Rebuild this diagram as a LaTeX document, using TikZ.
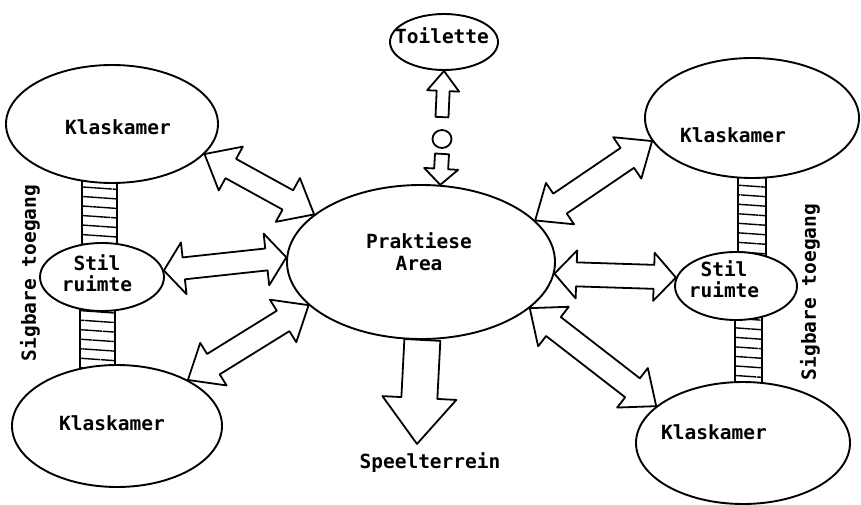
\documentclass[tikz,border=0pt]{standalone}
\usepackage{fontspec}
\setmonofont{DejaVu Sans Mono}
\usetikzlibrary{shapes.geometric,calc,patterns.meta}
\tikzset{
  room/.style={draw, ellipse, line width=1.9pt, fill=white, inner sep=0pt},
  lbl/.style={font=\ttfamily\bfseries\fontsize{19.5}{22}\selectfont, align=center, inner sep=0pt},
  arr/.style={line width=1.8pt, line join=round},
  corr/.style={line width=1.8pt, pattern={Lines[angle=-4, distance=9.5pt, line width=1.4pt]}}
}
% double block arrow: #1 A, #2 B, #3 head length, #4 shaft half width, #5 head half width
\newcommand\dblarr[5]{%
  \draw[arr] (#1) -- ($(#1)!#3!(#2)!#5!90:(#2)$) -- ($(#1)!#3!(#2)!#4!90:(#2)$)
    -- ($(#2)!#3!(#1)!#4!-90:(#1)$) -- ($(#2)!#3!(#1)!#5!-90:(#1)$) -- (#2)
    -- ($(#2)!#3!(#1)!#5!90:(#1)$) -- ($(#2)!#3!(#1)!#4!90:(#1)$)
    -- ($(#1)!#3!(#2)!#4!-90:(#2)$) -- ($(#1)!#3!(#2)!#5!-90:(#2)$) -- cycle;}
% single block arrow: #1 tail, #2 tip
\newcommand\sglarr[5]{%
  \draw[arr] ($(#1)!#4!90:(#2)$) -- ($(#2)!#3!(#1)!#4!-90:(#1)$) -- ($(#2)!#3!(#1)!#5!-90:(#1)$)
    -- (#2) -- ($(#2)!#3!(#1)!#5!90:(#1)$) -- ($(#2)!#3!(#1)!#4!90:(#1)$)
    -- ($(#1)!#4!-90:(#2)$) -- cycle;}
\begin{document}
\begin{tikzpicture}[x=1pt,y=-1pt]
\useasboundingbox (0,0) rectangle (861,505);
\path (112,124) coordinate (pklt) (102,277) coordinate (plsr) (117,426) coordinate (plkb)
      (752,118) coordinate (prkt) (736,286) coordinate (prsr) (743,443) coordinate (prkb);
% corridors (drawn first, ellipses cover their ends)
\draw[corr] ($(plsr)+(-20,-24)$) rectangle ($(pklt)+(5,49)$);
\draw[corr] ($(plsr)+(-22,24)$) rectangle ($(plkb)+(-2,-51)$);
\draw[corr] ($(prkt)+(-14,50)$) rectangle ($(prsr)+(30,-24)$);
\draw[corr] ($(prsr)+(-1,24)$) rectangle ($(prkb)+(19,-51)$);
% rooms
\node[room, minimum width=108pt, minimum height=56pt,
      label={[lbl, xshift=-2pt, yshift=6pt]center:Toilette}] (toi) at (444,42) {};
\node[room, minimum width=212pt, minimum height=118pt,
      label={[lbl, xshift=6pt, yshift=-3pt]center:Klaskamer}] (klt) at (pklt) {};
\node[room, minimum width=124pt, minimum height=68pt,
      label={[lbl, xshift=-5pt, yshift=4pt]center:{Stil\\[-1pt]ruimte}}] (lsr) at (plsr) {};
\node[room, minimum width=210pt, minimum height=122pt,
      label={[lbl, xshift=-5pt, yshift=3pt]center:Klaskamer}] (lkb) at (plkb) {};
\node[room, minimum width=268pt, minimum height=154pt,
      label={[lbl, xshift=-2pt, yshift=10pt]center:{Praktiese\\Area}}] (pa) at (421,262) {};
\node[room, minimum width=214pt, minimum height=120pt,
      label={[lbl, xshift=-19pt, yshift=-17pt]center:Klaskamer}] (rkt) at (prkt) {};
\node[room, minimum width=122pt, minimum height=68pt,
      label={[lbl, xshift=-12pt, yshift=7pt]center:{Stil\\[-1pt]ruimte}}] (rsr) at (prsr) {};
\node[room, minimum width=214pt, minimum height=122pt,
      label={[lbl, xshift=-29pt, yshift=11pt]center:Klaskamer}] (rkb) at (prkb) {};
% person mark between the toilet arrows
\node[draw, ellipse, line width=1.8pt, minimum width=19pt, minimum height=18pt, inner sep=0pt] (o) at (442,139) {};
% texts
\node[lbl, anchor=base] (sp) at (430,468) {Speelterrein};
\node[lbl, rotate=90] (sgl) at (30,273) {Sigbare toegang};
\node[lbl, rotate=90] (sgr) at (810,292) {Sigbare toegang};
% arrows
\sglarr{[yshift=12pt]o.north}{toi.south}{20pt}{6.5pt}{16pt}
\sglarr{[yshift=-5pt]o.south}{pa.76}{16pt}{7pt}{17pt}
\sglarr{pa.-89}{[xshift=-13pt,yshift=8pt]sp.north}{46pt}{18pt}{37pt}
\dblarr{klt.-18}{pa.156}{30pt}{11pt}{25pt}
\dblarr{lsr.6}{pa.178}{20pt}{11pt}{26pt}
\dblarr{lkb.33}{pa.201}{30pt}{12pt}{25pt}
\dblarr{pa.20}{rkt.193}{30pt}{12pt}{25pt}
\dblarr{pa.-5}{rsr.172}{22pt}{12pt}{24pt}
\dblarr{pa.-23}{rkb.157}{30pt}{12pt}{25pt}
\end{tikzpicture}
\end{document}
